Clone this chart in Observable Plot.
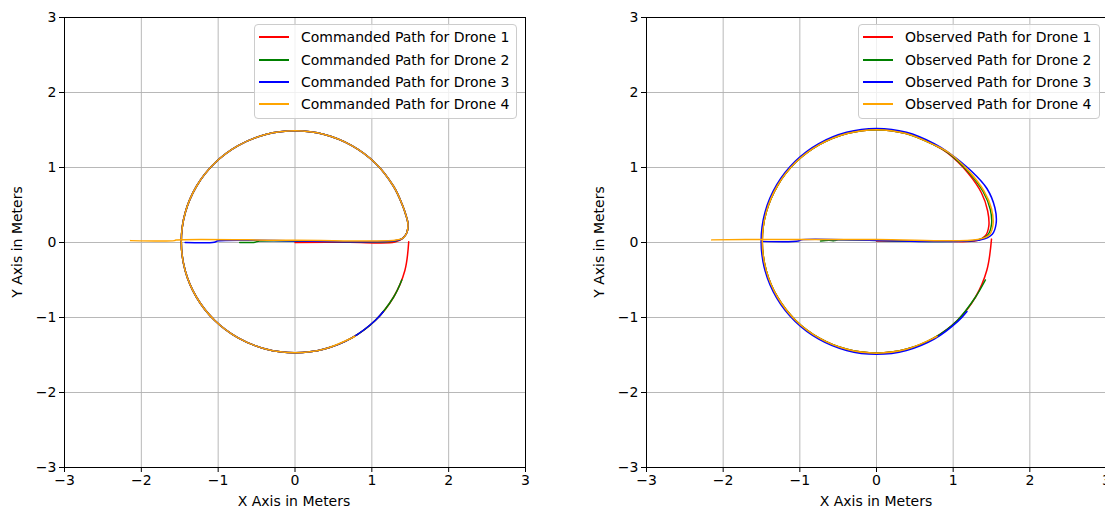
<!DOCTYPE html>
<html>
<head>
<meta charset="utf-8">
<script src="https://cdn.jsdelivr.net/npm/d3@7"></script>
<script src="https://cdn.jsdelivr.net/npm/@observablehq/plot@0.6"></script>
<style>
  body { margin: 0; background: white; }
  #wrap { position: relative; width: 1105px; height: 510px; overflow: hidden; background: white; font-family: "DejaVu Sans", sans-serif; }
  #wrap svg { position: absolute; top: 0; }
  .legend { position: absolute; border: 1px solid #cccccc; border-radius: 4px; background: rgba(255,255,255,0.8); box-sizing: border-box; }
  .legend .row { position: absolute; left: 0; height: 20px; display: flex; align-items: center; font-size: 14px; color: #000; white-space: nowrap; }
</style>
</head>
<body>
<div id="wrap"></div>
<script>
// ---------- labels / categories ----------
const droneNames = ["Drone 1", "Drone 2", "Drone 3", "Drone 4"];
const droneColors = ["red", "green", "blue", "orange"];
const tickValues = [-3, -2, -1, 0, 1, 2, 3];
const xLabel = "X Axis in Meters";
const yLabel = "Y Axis in Meters";

// ---------- commanded paths (left panel) ----------
const cmdLead1 = [[0.00, 0.000], [0.70, 0.003], [1.30, 0.005]];
const cmdLead2 = [[-0.72, 0.000], [-0.52, 0.004], [-0.46, 0.020], [1.30, 0.020]];
const cmdLead3 = [[-1.43, 0.000], [-1.05, 0.003], [-1.00, 0.022], [1.30, 0.022]];
const cmdLead4 = [[-2.14, 0.025], [-1.57, 0.025], [-1.55, 0.033], [0.00, 0.030], [1.30, 0.030]];
const cmdCorner = [[1.40, 0.055], [1.455, 0.13], [1.47, 0.25], [1.445, 0.36]];
const cmdArc = [
  [1.39, 0.52], [1.282, 0.75], [1.047, 1.057], [0.74, 1.292], [0.383, 1.44], [0.00, 1.49],
  [-0.383, 1.44], [-0.74, 1.292], [-1.047, 1.057], [-1.282, 0.75], [-1.43, 0.393], [-1.48, 0.01],
  [-1.43, -0.373], [-1.282, -0.73], [-1.047, -1.037], [-0.74, -1.272], [-0.383, -1.42], [0.00, -1.47],
  [0.383, -1.42], [0.74, -1.272]
];
const cmdTail1 = [[1.047, -1.037], [1.282, -0.73], [1.43, -0.373], [1.48, 0.01]];
const cmdTail2 = [[1.047, -1.037], [1.282, -0.73], [1.39, -0.50]];
const cmdTail3 = [[1.047, -1.037], [1.15, -0.92]];
const cmdTail4 = [[0.78, -1.25]];

// ---------- observed paths (right panel) ----------
const obsLead1 = [[0.00, 0.020], [0.70, 0.022], [1.31, 0.025]];
const obsLead2 = [[-0.73, 0.020], [-0.62, 0.030], [-0.55, 0.025], [-0.50, 0.035], [1.32, 0.035]];
const obsLead3 = [[-1.49, 0.015], [-1.02, 0.020], [-0.98, 0.038], [1.36, 0.035]];
const obsLead4 = [[-2.15, 0.035], [-1.50, 0.040], [0.00, 0.040], [1.32, 0.040]];
const obsCorner1 = [[1.42, 0.09], [1.465, 0.22], [1.45, 0.42], [1.37, 0.66], [1.19, 0.93], [0.93, 1.19]];
const obsCorner2 = [[1.45, 0.10], [1.50, 0.24], [1.485, 0.44], [1.39, 0.68], [1.20, 0.94], [0.935, 1.195]];
const obsCorner3 = [[1.51, 0.11], [1.56, 0.25], [1.545, 0.46], [1.44, 0.72], [1.24, 0.95], [0.94, 1.20]];
const obsCorner4 = [[1.47, 0.10], [1.52, 0.24], [1.50, 0.45], [1.40, 0.69], [1.21, 0.945], [0.94, 1.20]];
const obsArc = [
  [0.745, 1.305], [0.386, 1.454], [0.00, 1.505], [-0.386, 1.454], [-0.745, 1.305], [-1.054, 1.069],
  [-1.29, 0.76], [-1.439, 0.401], [-1.49, 0.015], [-1.439, -0.371], [-1.29, -0.73], [-1.054, -1.039],
  [-0.745, -1.275], [-0.386, -1.424], [0.00, -1.475], [0.386, -1.424]
];
const obsArcBlue = [
  [0.753, 1.318], [0.39, 1.469], [0.00, 1.52], [-0.39, 1.469], [-0.753, 1.318], [-1.064, 1.079],
  [-1.303, 0.768], [-1.454, 0.405], [-1.505, 0.015], [-1.454, -0.375], [-1.303, -0.738], [-1.064, -1.049],
  [-0.753, -1.288], [-0.39, -1.439], [0.00, -1.49], [0.39, -1.439], [0.753, -1.288], [1.064, -1.049]
];
const obsTail1 = [[0.745, -1.275], [1.054, -1.039], [1.29, -0.73], [1.439, -0.371], [1.50, 0.045]];
const obsTail2 = [[0.745, -1.275], [1.054, -1.039], [1.29, -0.73], [1.42, -0.50]];
const obsTail3 = [[1.18, -0.92]];
const obsTail4 = [[0.745, -1.275], [0.79, -1.25]];

const cmdPaths = [
  [...cmdLead1, ...cmdCorner, ...cmdArc, ...cmdTail1],
  [...cmdLead2, ...cmdCorner, ...cmdArc, ...cmdTail2],
  [...cmdLead3, ...cmdCorner, ...cmdArc, ...cmdTail3],
  [...cmdLead4, ...cmdCorner, ...cmdArc, ...cmdTail4]
];
const obsPaths = [
  [...obsLead1, ...obsCorner1, ...obsArc, ...obsTail1],
  [...obsLead2, ...obsCorner2, ...obsArc, ...obsTail2],
  [...obsLead3, ...obsCorner3, ...obsArcBlue, ...obsTail3],
  [...obsLead4, ...obsCorner4, ...obsArc, ...obsTail4]
];

const wrap = document.getElementById("wrap");
const fmt = d3.format("d");

function panel(paths, left, width, marginLeft, marginRight, legendPrefix, legendBox, xLabelX, yLabelX) {
  const marks = [
    Plot.gridX(tickValues, {stroke: "#b0b0b0", strokeOpacity: 1, strokeWidth: 0.9}),
    Plot.gridY(tickValues, {stroke: "#b0b0b0", strokeOpacity: 1, strokeWidth: 0.9}),
    ...paths.map((pts, i) => Plot.line(pts, {
      x: d => d[0], y: d => d[1], stroke: droneColors[i], strokeWidth: 1.5, curve: "catmull-rom"
    })),
    Plot.frame({stroke: "black", strokeWidth: 1}),
    Plot.axisX({ticks: tickValues, tickFormat: fmt, tickSize: 5, tickPadding: 3, label: null, fontSize: 14}),
    Plot.axisY({ticks: tickValues, tickFormat: fmt, tickSize: 5, tickPadding: 3, label: null, fontSize: 14})
  ];
  const svg = Plot.plot({
    width, height: 510,
    marginTop: 17, marginBottom: 43, marginLeft, marginRight,
    x: {domain: [-3, 3]},
    y: {domain: [-3, 3]},
    style: {fontFamily: "DejaVu Sans", fontSize: "14px", color: "black", background: "transparent", overflow: "visible"},
    marks
  });
  svg.style.left = left + "px";
  const s = d3.select(svg);
  s.append("text").attr("x", xLabelX).attr("y", 502).attr("text-anchor", "middle")
    .attr("dominant-baseline", "middle").attr("font-size", 14).attr("fill", "black").text(xLabel);
  s.append("text").attr("transform", `translate(${yLabelX},242) rotate(-90)`).attr("text-anchor", "middle")
    .attr("dominant-baseline", "middle").attr("font-size", 14).attr("fill", "black").text(yLabel);
  wrap.appendChild(svg);

  // legend
  const lg = document.createElement("div");
  lg.className = "legend";
  Object.assign(lg.style, {left: legendBox[0] + "px", top: legendBox[1] + "px", width: legendBox[2] + "px", height: legendBox[3] + "px"});
  const rowYs = [12, 34.7, 57, 79.3];
  droneNames.forEach((name, i) => {
    const row = document.createElement("div");
    row.className = "row";
    row.style.top = (rowYs[i] - 10) + "px";
    row.innerHTML = `<svg width="46" height="20" style="position:static"><line x1="4" x2="34" y1="10" y2="10" stroke="${droneColors[i]}" stroke-width="2"/></svg><span>${legendPrefix} for ${name}</span>`;
    lg.appendChild(row);
  });
  wrap.appendChild(lg);
}

panel(cmdPaths, 0, 545, 64, 20, "Commanded Path", [254, 24, 263, 95], 294, 18);
panel(obsPaths, 560, 566, 86, 20, "Observed Path", [858, 24, 242, 95], 316, 40);
</script>
</body>
</html>
